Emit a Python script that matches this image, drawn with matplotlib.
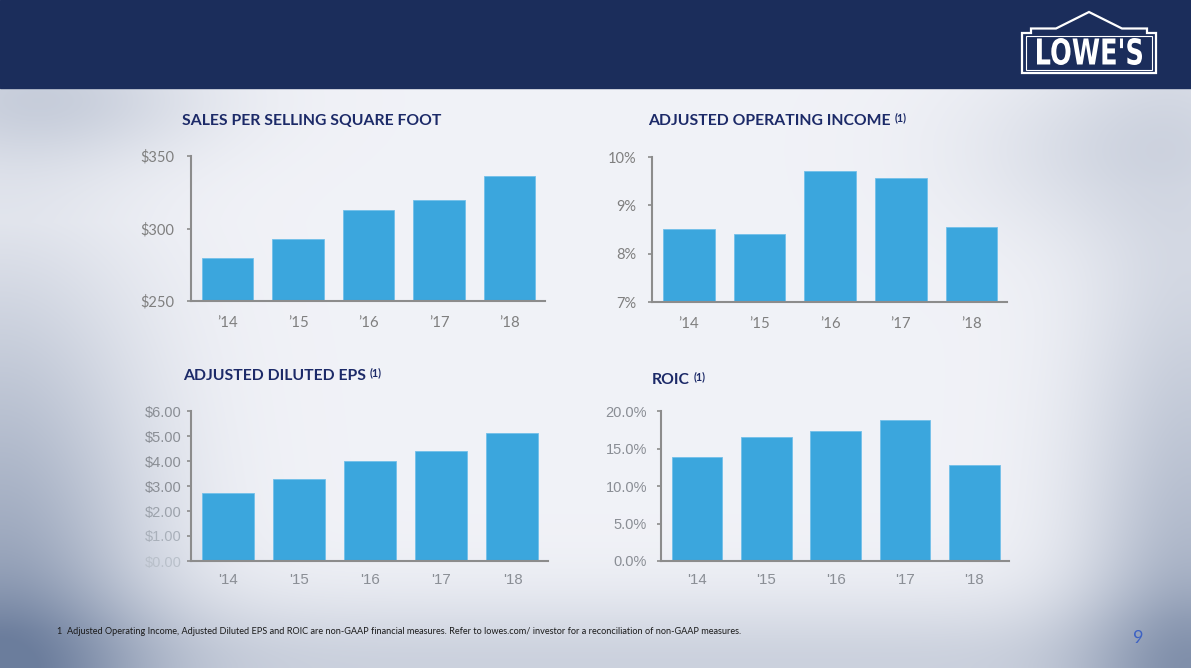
import numpy as np
import matplotlib
matplotlib.use("Agg")
import matplotlib.pyplot as plt
from matplotlib.patches import Rectangle, PathPatch, Polygon
from matplotlib.textpath import TextPath
from matplotlib.font_manager import FontProperties
from matplotlib.transforms import Affine2D

W, H = 1191, 668

# data
years_curly = ["\u201914", "\u201915", "\u201916", "\u201917", "\u201918"]
years_plain = ["'14", "'15", "'16", "'17", "'18"]

sales_per_sqft = [280, 293, 313, 320, 336]
sales_ticks = [250, 300, 350]
sales_ticklabels = ["$250", "$300", "$350"]

op_income_pct = [8.52, 8.41, 9.72, 9.56, 8.56]
op_ticks = [7, 8, 9, 10]
op_ticklabels = ["7%", "8%", "9%", "10%"]

adj_eps = [2.71, 3.29, 3.99, 4.39, 5.11]
eps_ticks = [0, 1, 2, 3, 4, 5, 6]
eps_ticklabels = ["$0.00", "$1.00", "$2.00", "$3.00", "$4.00", "$5.00", "$6.00"]

roic_pct = [13.9, 16.5, 17.3, 18.8, 12.8]
roic_ticks = [0, 5, 10, 15, 20]
roic_ticklabels = ["0.0%", "5.0%", "10.0%", "15.0%", "20.0%"]

BAR = "#3ba6dd"
BAR_EDGE = "#72c0ea"
SPINE = "#8c8c8c"
NAVY = "#1c2a68"
HEADER = "#1b2d5b"

fig = plt.figure(figsize=(W / 100, H / 100), dpi=100)

# ---- background ----
bg = fig.add_axes([0, 0, 1, 1])
bg.set_xlim(0, W)
bg.set_ylim(H, 0)
bg.axis("off")

yy, xx = np.mgrid[0:H, 0:W].astype(float)
light = np.array([0.945, 0.95, 0.97])
dark = np.array([0.33, 0.41, 0.55])
d = 0.65 * np.exp(-(xx / 150) ** 2) * np.clip((yy - 150) / 480, 0.15, 1.0)
d += 0.48 * np.exp(-((xx - W) / 110) ** 2) * np.clip((yy - 80) / 540, 0.2, 1.0)
d += 0.24 * np.exp(-((yy - H) / 70) ** 2)
d += 0.18 * np.exp(-(((xx - 60) / 160) ** 2 + ((yy - 100) / 60) ** 2))
d += 0.15 * np.exp(-(((xx - 1120) / 160) ** 2 + ((yy - 150) / 90) ** 2))
d = np.clip(d, 0, 0.85)[..., None]
img = light * (1 - d) + dark * d
bg.imshow(img, extent=(0, W, H, 0), aspect="auto", zorder=0)

bg.add_patch(Rectangle((0, 0), W, 88, color=HEADER, zorder=1))

# ---- logo ----
house = [(1022, 73), (1022, 33), (1031, 33), (1031, 28.5), (1056, 28.5),
         (1089, 12), (1122, 28.5), (1147, 28.5), (1147, 33), (1156, 33),
         (1156, 73)]
bg.add_patch(Polygon(house, closed=True, fill=False, ec="white", lw=1.6, zorder=2))
bg.add_patch(Rectangle((1026, 36), 126, 33.5, fill=False, ec="white", lw=0.8, zorder=2))
tp = TextPath((0, 0), "LOWE'S", size=10, prop=FontProperties(family="DejaVu Sans", weight="bold"))
ext = tp.get_extents()
sx = (1142 - 1037) / ext.width
sy = (65 - 38) / ext.height
tr = Affine2D().translate(-ext.x0, -ext.y0).scale(sx, -sy).translate(1037, 65)
bg.add_patch(PathPatch(tr.transform_path(tp), fc="white", ec="none", zorder=2))


def px_axes(left, top, right, bottom):
    return fig.add_axes([left / W, 1 - bottom / H, (right - left) / W, (bottom - top) / H])


charts = [
    dict(box=(191, 156, 545, 301), vals=sales_per_sqft, ylim=(250, 350),
         ticks=sales_ticks, labels=sales_ticklabels, xl=years_curly,
         family="Lato", ypad=9, xpad=11, tcolor="#7f7f7f"),
    dict(box=(652, 157, 1007, 302), vals=op_income_pct, ylim=(7, 10),
         ticks=op_ticks, labels=op_ticklabels, xl=years_curly,
         family="Lato", ypad=8, xpad=11, tcolor="#7f7f7f"),
    dict(box=(191, 411, 548, 561), vals=adj_eps, ylim=(0, 6),
         ticks=eps_ticks, labels=eps_ticklabels, xl=years_plain,
         family="Liberation Sans", ypad=4, xpad=9, tcolor="#8a8e95"),
    dict(box=(661, 411, 1009, 561), vals=roic_pct, ylim=(0, 20),
         ticks=roic_ticks, labels=roic_ticklabels, xl=years_plain,
         family="Liberation Sans", ypad=7, xpad=9, tcolor="#8a8e95"),
]

axes = []
for c in charts:
    ax = px_axes(*c["box"])
    ax.patch.set_alpha(0)
    ax.bar(range(len(c["vals"])), c["vals"], width=0.73, color=BAR,
           edgecolor=BAR_EDGE, linewidth=0.6, zorder=2)
    ax.set_xlim(-0.52, 4.5)
    ax.set_ylim(*c["ylim"])
    ax.set_yticks(c["ticks"])
    ax.set_yticklabels(c["labels"], family=c["family"], fontsize=10.5, color=c["tcolor"])
    ax.set_xticks(range(len(c["xl"])))
    ax.set_xticklabels(c["xl"], family=c["family"], fontsize=10.8, color=c["tcolor"])
    for s in ("top", "right"):
        ax.spines[s].set_visible(False)
    for s in ("left", "bottom"):
        ax.spines[s].set_color(SPINE)
        ax.spines[s].set_linewidth(1.5)
        ax.spines[s].set_zorder(3)
    ax.tick_params(axis="y", length=3, width=1.2, color=SPINE, pad=c["ypad"])
    ax.tick_params(axis="x", length=0, pad=c["xpad"])
    axes.append(ax)

# the lowest EPS labels fade into the background on the slide
for lab, col in zip(axes[2].get_yticklabels()[:3], ["#b9c0ca", "#a9b0ba", "#9ca2ab"]):
    lab.set_color(col)

# ---- titles ----
titles = [
    ("SALES PER SELLING SQUARE FOOT", 182, 121, False),
    ("ADJUSTED OPERATING INCOME", 648, 121, True),
    ("ADJUSTED DILUTED EPS", 183, 376, True),
    ("ROIC", 652, 380, True),
]
fig.canvas.draw()
renderer = fig.canvas.get_renderer()
for text, x, y, sup in titles:
    t = bg.text(x, y, text, family="Lato", weight="bold", fontsize=11.3,
                color=NAVY, ha="left", va="center", zorder=3)
    if sup:
        bb = t.get_window_extent(renderer=renderer)
        xr = bg.transData.inverted().transform((bb.x1, 0))[0]
        bg.text(xr + 4, y - 3, "(1)", family="Lato", weight="bold", fontsize=7.8,
                color=NAVY, ha="left", va="center", zorder=3)

bg.text(57, 632, "1  Adjusted Operating Income, Adjusted Diluted EPS and ROIC are non-GAAP "
        "financial measures. Refer to lowes.com/ investor for a reconciliation of non-GAAP measures.",
        family="Lato", fontsize=6.6, color="#1a1a1a", ha="left", va="center", zorder=3)
bg.text(1138, 638, "9", family="Lato", fontsize=13, color="#3d62c4",
        ha="center", va="center", zorder=3)

fig.savefig("out.png", dpi=100)
